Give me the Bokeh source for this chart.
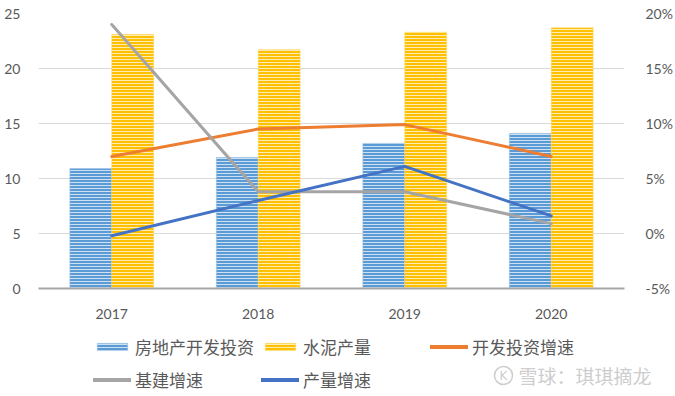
from bokeh.plotting import figure
from bokeh.layouts import column, row
from bokeh.models import (FactorRange, Range1d, LinearAxis, PrintfTickFormatter,
                          Legend, LegendItem, ColumnDataSource)
from bokeh.core.properties import value
from bokeh.transform import dodge
from bokeh.embed import file_html
from bokeh.resources import INLINE

years = ["2017", "2018", "2019", "2020"]
real_estate_invest = [10.9, 11.9, 13.2, 14.1]
cement_output = [23.1, 21.7, 23.3, 23.7]
invest_growth = [7.0, 9.5, 9.9, 7.0]
infra_growth = [19.0, 3.8, 3.8, 0.9]
output_growth = [-0.2, 3.0, 6.1, 1.6]

left_ticks = [0, 5, 10, 15, 20, 25]
right_ticks = [-5, 0, 5, 10, 15, 20]

series_names = ["房地产开发投资", "水泥产量", "开发投资增速", "基建增速", "产量增速"]
watermark = "雪球：琪琪摘龙"

BLUE_BAR = "#5B9BD5"
YELLOW_BAR = "#FFC000"
ORANGE = "#ED7D31"
GRAY = "#A5A5A5"
BLUE_LINE = "#4472C4"

src = ColumnDataSource(dict(year=years, rei=real_estate_invest, cem=cement_output,
                            ig=invest_growth, inf=infra_growth, og=output_growth))

AX_FONT = "Lato"
CJK = "Noto Sans CJK SC"
TXT = "#595959"

bar_style = dict(hatch_pattern="-", hatch_color="white", hatch_alpha=0.7,
                 hatch_scale=3, hatch_weight=1, line_width=0.5)

p = figure(width=675, height=325, output_backend="svg", toolbar_location=None,
           x_range=FactorRange(*years, range_padding=0), y_range=Range1d(0, 25),
           min_border_left=38, min_border_right=50, min_border_top=13, min_border_bottom=37)
p.outline_line_color = None
p.extra_y_ranges = {"pct": Range1d(-5, 20)}

bw = 0.286
p.vbar(x=dodge("year", -bw / 2, range=p.x_range), top="rei", width=bw, source=src,
       fill_color=BLUE_BAR, line_color="#9DC3E6", **bar_style)
p.vbar(x=dodge("year", bw / 2, range=p.x_range), top="cem", width=bw, source=src,
       fill_color=YELLOW_BAR, line_color="#FFD966", **bar_style)

line_style = dict(line_width=3, line_join="round", line_cap="round")
p.line(x="year", y="ig", source=src, y_range_name="pct", line_color=ORANGE, **line_style)
p.line(x="year", y="inf", source=src, y_range_name="pct", line_color=GRAY, **line_style)
p.line(x="year", y="og", source=src, y_range_name="pct", line_color=BLUE_LINE, **line_style)

p.yaxis.ticker = left_ticks
p.yaxis.axis_line_color = None
p.yaxis.major_tick_line_color = None
p.yaxis.minor_tick_line_color = None
p.yaxis.major_label_text_font = AX_FONT
p.yaxis.major_label_text_font_size = "14px"
p.yaxis.major_label_text_color = TXT
p.yaxis.major_label_standoff = 12

ry = LinearAxis(y_range_name="pct", ticker=right_ticks,
                formatter=PrintfTickFormatter(format="%d%%"))
ry.axis_line_color = None
ry.major_tick_line_color = None
ry.minor_tick_line_color = None
ry.major_label_text_font = AX_FONT
ry.major_label_text_font_size = "14px"
ry.major_label_text_color = TXT
ry.major_label_standoff = 15
p.add_layout(ry, "right")

p.xaxis.axis_line_color = "#A6A6A6"
p.xaxis.axis_line_width = 2
p.xaxis.major_tick_line_color = None
p.xaxis.major_label_text_font = AX_FONT
p.xaxis.major_label_text_font_size = "14px"
p.xaxis.major_label_text_color = TXT
p.xaxis.major_label_standoff = 14

p.xgrid.grid_line_color = None
p.ygrid.grid_line_color = "#D9D9D9"
p.ygrid.grid_line_width = 1

# legend strip (proxy glyphs placed outside the visible range)
q = figure(width=675, height=71, output_backend="svg", toolbar_location=None,
           x_range=Range1d(0, 675), y_range=Range1d(0, 71),
           x_axis_type=None, y_axis_type=None,
           min_border_left=0, min_border_right=0, min_border_top=0, min_border_bottom=0)
q.outline_line_color = None
q.grid.visible = False
proxy = ColumnDataSource(dict(x=[-500, -400], y=[-500, -500], top=[-400, -400]))
r1 = q.vbar(x="x", top="top", bottom=-500, width=1, source=proxy, fill_color=BLUE_BAR,
            line_color="#9DC3E6", **bar_style)
r2 = q.vbar(x="x", top="top", bottom=-500, width=1, source=proxy, fill_color=YELLOW_BAR,
            line_color="#FFD966", **bar_style)
r3 = q.line(x="x", y="y", source=proxy, line_color=ORANGE, line_width=4, line_cap="round")
r4 = q.line(x="x", y="y", source=proxy, line_color=GRAY, line_width=4, line_cap="round")
r5 = q.line(x="x", y="y", source=proxy, line_color=BLUE_LINE, line_width=4, line_cap="round")
renderers = [r1, r2, r3, r4, r5]

leg_style = dict(orientation="vertical", padding=0, margin=0, spacing=8,
                 glyph_width=38, glyph_height=9, label_standoff=4, label_height=20,
                 label_text_font=CJK, label_text_font_size="17px", label_text_color=TXT,
                 border_line_color=None, background_fill_alpha=0)

def items(idx):
    return [LegendItem(label=series_names[i], renderers=[renderers[i]], index=0) for i in idx]

q.add_layout(Legend(items=items([0, 3]), location=(93, 4), **leg_style), "center")
q.add_layout(Legend(items=items([1, 4]), location=(261, 4), **leg_style), "center")
q.add_layout(Legend(items=items([2]), location=(430, 37), **leg_style), "center")

q.text(x=[518], y=[21], text=[watermark], text_font=value(CJK), text_font_size="19px",
       text_color="#C0C0C0", text_baseline="middle", text_alpha=0.8)
q.circle(x=[503], y=[21], radius=9, fill_color=None, line_color="#C0C0C0", line_width=1.5,
         line_alpha=0.8)
q.text(x=[503], y=[21], text=["K"], text_font=value("DejaVu Sans"), text_font_size="12px",
       text_color="#C0C0C0", text_align="center", text_baseline="middle", text_alpha=0.8)

layout = column(p, row(q), spacing=0)
open("out.html", "w").write(file_html(layout, INLINE))
